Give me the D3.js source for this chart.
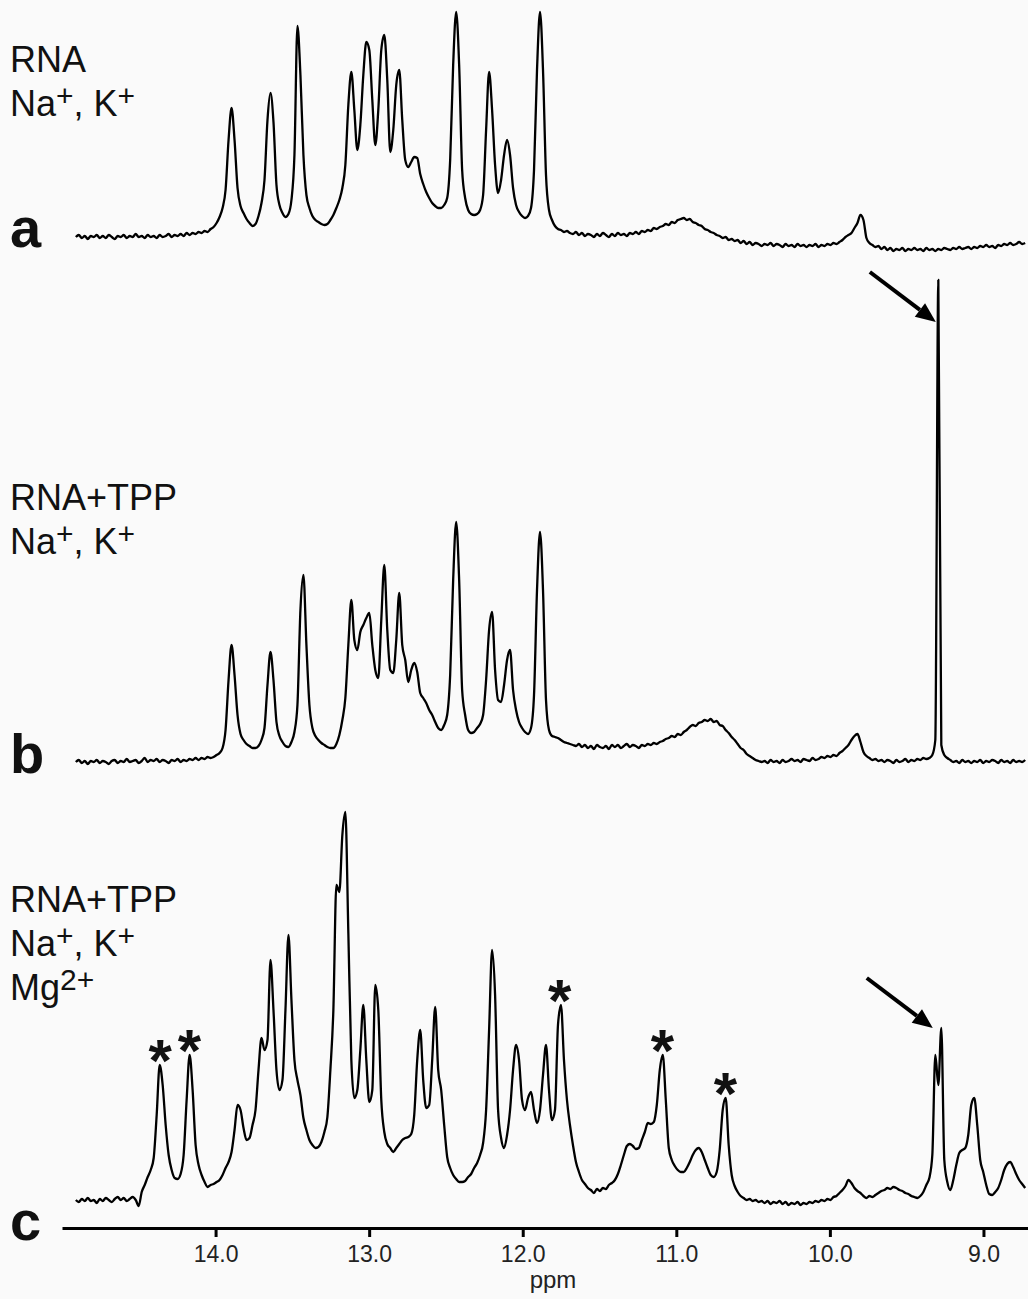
<!DOCTYPE html>
<html>
<head>
<meta charset="utf-8">
<script src="https://cdn.jsdelivr.net/npm/d3@7"></script>
<style>
  body { margin: 0; background: #fafafa; }
  text { font-family: "Liberation Sans", Arial, sans-serif; }
</style>
</head>
<body>
<script>
var ppmStart = 14.91, ppmStep = 0.0195;

var specA = [
 13,15,12,14,11,14,13,15,12,14, 12,15,13,11,14,13,15,12,14,13,
 16,13,14,12,15,13,14,12,15,13, 14,16,13,15,14,16,14,17,15,17,
 16,18,17,19,18,21,23,27,33,42, 60,110,142,110,62,44,37,31,27,24,
 26,34,47,70,130,157,128,65,45,37, 33,36,50,95,224,175,95,55,42,34,
 30,28,26,25,26,30,35,42,50,62, 85,145,178,140,100,125,175,208,200,150,
 105,140,200,215,170,98,120,165,180,130, 90,83,88,93,92,76,66,58,52,47,
 44,42,42,45,52,90,185,238,185,80, 52,40,36,35,36,40,55,120,178,140,
 85,57,70,95,110,95,62,45,38,34, 32,34,42,80,180,238,180,75,40,30,
 24,21,20,18,19,17,16,18,15,17, 14,16,15,13,16,14,17,15,13,16,
 14,17,15,16,14,17,16,18,16,19, 18,20,19,22,21,23,24,26,25,28,
 27,30,31,32,30,31,28,27,25,24, 21,20,18,17,15,14,12,13,10,11,
 9,10,7,9,6,8,5,7,6,4, 6,5,7,4,6,5,3,6,4,5,
 3,6,4,5,3,5,4,6,3,5, 4,6,5,7,6,8,10,13,15,17,
 22,27,35,30,12,7,5,3,4,1, 3,0,2,-1,1,0,2,-1,1,0,
 2,0,1,-1,2,0,1,-1,1,0, 2,1,0,2,1,3,1,2,3,1,
 3,2,4,3,5,3,4,2,5,4, 6,5,7,5,6,8,6,7
];

var specB = [
 8,10,7,9,6,9,8,10,7,9, 8,6,9,10,7,9,8,11,8,9,
 10,7,9,12,8,10,9,11,8,10, 9,7,10,9,11,8,10,9,11,10,
 12,10,12,11,13,12,13,15,17,22, 40,90,125,95,55,36,30,26,24,22,
 22,24,30,42,85,118,90,48,34,28, 24,23,28,38,65,160,195,125,65,42,
 34,30,27,25,23,22,22,26,35,50, 72,125,170,130,120,138,145,152,157,125,
 100,92,150,205,140,100,97,130,177,125, 110,88,100,107,98,77,72,67,60,55,
 48,42,40,45,55,95,190,248,190,80, 55,40,37,38,42,46,55,90,140,158,
 100,70,68,85,110,120,80,60,48,42, 38,36,42,75,180,238,180,70,40,34,
 33,32,30,28,27,26,25,24,26,23, 25,22,24,21,25,23,22,24,21,25,
 23,25,22,24,26,23,25,24,22,25, 24,26,25,27,26,28,29,31,32,34,
 33,36,35,38,40,43,45,44,47,48, 50,49,51,48,49,45,44,40,37,33,
 30,26,22,20,16,14,12,10,9,8, 9,7,10,8,9,7,10,8,9,11,
 9,10,8,11,10,9,12,10,11,13, 12,14,13,15,14,17,19,22,25,30,
 34,36,28,18,14,12,10,11,9,10, 8,10,9,7,10,8,9,11,8,10,
 9,11,10,12,11,12,15,30,490,25, 15,12,10,8,9,7,10,8,9,7,
 9,8,10,7,9,8,10,9,7,10, 8,9,7,10,8,9,8,10
];

var specC = [
 10,8,11,9,12,9,10,7,11,9, 12,10,8,11,13,10,12,9,11,13,
 10,4,18,25,33,40,52,95,145,125, 85,55,40,32,31,36,55,110,155,120,
 65,45,35,28,23,25,26,28,30,35, 42,48,58,80,105,100,82,70,72,85,
 100,140,172,160,170,250,200,140,120,130, 200,275,210,150,130,115,92,80,70,65,
 62,63,68,78,93,140,200,325,318,375, 398,277,150,112,120,160,205,150,108,120,
 225,200,110,78,66,62,58,62,66,70, 72,73,76,95,150,180,130,102,105,150,
 203,140,120,85,53,42,35,31,28,28, 29,33,36,42,47,55,67,100,180,260,
 215,100,72,62,75,100,140,165,150,110, 100,112,118,100,87,100,135,165,120,90,
 100,185,205,150,110,85,65,48,38,30, 26,22,20,17,21,19,22,21,25,27,
 30,36,45,55,64,66,64,61,62,70, 78,87,86,88,105,140,155,110,62,50,
 44,40,38,38,42,48,55,60,62,58, 50,42,35,33,38,60,100,112,65,35,
 24,18,14,12,10,11,9,10,8,9, 7,9,6,8,7,9,6,8,5,7,
 6,8,5,7,6,8,7,9,8,10, 9,11,10,13,14,17,20,24,30,27,
 22,19,17,14,12,14,13,15,17,19, 20,22,21,23,22,20,19,17,16,14,
 13,12,14,18,25,32,55,155,125,182, 50,28,20,30,45,57,60,62,75,105,
 112,85,50,38,25,16,15,18,22,30, 40,46,48,43,36,30,26,22
];

var tickValues = [14, 13, 12, 11, 10, 9];
var axisTitle = "ppm";
var panelLetters = ["a", "b", "c"];
// [text, superscript?]
var panelLabels = [
  [[["RNA", 0]], [["Na", 0], ["+", 1], [", K", 0], ["+", 1]]],
  [[["RNA+TPP", 0]], [["Na", 0], ["+", 1], [", K", 0], ["+", 1]]],
  [[["RNA+TPP", 0]], [["Na", 0], ["+", 1], [", K", 0], ["+", 1]], [["Mg", 0], ["2+", 1]]]
];
var starPpm = [14.36, 14.17, 11.76, 11.09, 10.68];
var arrowTips = [
  {panel: 1, ppm: 9.31, value: 448},
  {panel: 2, ppm: 9.33, value: 182}
];

var W = 1028, H = 1299;
var svg = d3.select("body").append("svg")
    .attr("width", W)
    .attr("height", H);

svg.append("rect")
    .attr("width", W)
    .attr("height", H)
    .attr("fill", "#fafafa");

var x = d3.scaleLinear().domain([15.0, 8.71]).range([62, 1028]);
var bases = [250, 770, 1210];
var yScales = bases.map(function(b) {
    return d3.scaleLinear().domain([0, 500]).range([b, b - 500]);
});

function ppmAt(i) { return ppmStart - i * ppmStep; }

[specA, specB, specC].forEach(function(vals, p) {
    var y = yScales[p];
    var line = d3.line()
        .x(function(d, i) { return x(ppmAt(i)); })
        .y(function(d) { return y(d); })
        .curve(d3.curveMonotoneX);
    svg.append("path")
        .datum(vals)
        .attr("d", line)
        .attr("fill", "none")
        .attr("stroke", "#000")
        .attr("stroke-width", 2.3)
        .attr("stroke-linejoin", "round");
});

// axis
var axis = d3.axisBottom(x)
    .tickValues(tickValues)
    .tickFormat(d3.format(".1f"))
    .tickSize(9)
    .tickSizeOuter(0)
    .tickPadding(9);

var gx = svg.append("g")
    .attr("transform", "translate(0,1228)")
    .call(axis);
gx.select(".domain").attr("stroke", "#000").attr("stroke-width", 3);
gx.selectAll(".tick line").attr("stroke", "#000").attr("stroke-width", 3);
gx.selectAll(".tick text")
    .attr("font-family", "Liberation Sans, Arial, sans-serif")
    .attr("font-size", 23)
    .attr("fill", "#222");

svg.append("text")
    .attr("x", 553)
    .attr("y", 1288)
    .attr("text-anchor", "middle")
    .attr("font-size", 24)
    .attr("fill", "#222")
    .text(axisTitle);

// panel labels
var labelTop = [72, 510, 912];
var letterY = [247, 773, 1240];

panelLabels.forEach(function(lines, p) {
    lines.forEach(function(parts, k) {
        var t = svg.append("text")
            .attr("x", 10)
            .attr("y", labelTop[p] + k * 44)
            .attr("font-size", 36)
            .attr("fill", "#111");
        var raised = false;
        parts.forEach(function(part) {
            var sup = part[1] === 1;
            var dy = 0;
            if (sup && !raised) dy = -10;
            if (!sup && raised) dy = 10;
            raised = sup;
            t.append("tspan")
                .attr("dy", dy)
                .attr("font-size", sup ? 30 : 36)
                .text(part[0]);
        });
    });
    svg.append("text")
        .attr("x", 10)
        .attr("y", letterY[p])
        .attr("font-size", 56)
        .attr("font-weight", "bold")
        .attr("fill", "#111")
        .text(panelLetters[p]);
});

// asterisks above the marked peaks of spectrum c
function peakValue(vals, ppm) {
    var i = Math.round((ppmStart - ppm) / ppmStep);
    return d3.max(vals.slice(Math.max(0, i - 2), i + 3));
}

var starSize = 60;
svg.selectAll("text.star")
    .data(starPpm)
    .enter()
    .append("text")
    .attr("class", "star")
    .attr("x", function(d) { return x(d); })
    .attr("y", function(d) { return yScales[2](peakValue(specC, d)) - 18 + 0.57 * starSize; })
    .attr("text-anchor", "middle")
    .attr("font-size", starSize)
    .attr("font-weight", "bold")
    .attr("fill", "#111")
    .text("*");

// arrows
arrowTips.forEach(function(a) {
    var tx = x(a.ppm), ty = yScales[a.panel](a.value);
    var dx = 66, dy = 50, len = Math.sqrt(dx * dx + dy * dy);
    var ux = dx / len, uy = dy / len;
    var bx = tx - 20 * ux, by = ty - 20 * uy;
    svg.append("line")
        .attr("x1", tx - dx)
        .attr("y1", ty - dy)
        .attr("x2", bx)
        .attr("y2", by)
        .attr("stroke", "#000")
        .attr("stroke-width", 4);
    svg.append("path")
        .attr("d", "M" + tx + "," + ty +
            "L" + (bx - 8.5 * uy) + "," + (by + 8.5 * ux) +
            "L" + (bx + 8.5 * uy) + "," + (by - 8.5 * ux) + "Z")
        .attr("fill", "#000");
});
</script>
</body>
</html>
